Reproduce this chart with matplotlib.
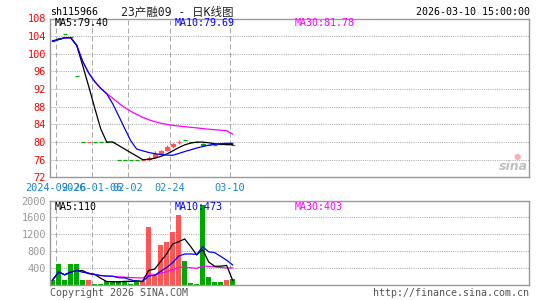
import numpy as np
import pandas as pd
import matplotlib
matplotlib.use('Agg')
import matplotlib.pyplot as plt

# daily K-line data
opens = [102.9, 103.6, 104.4, 103.7, 95.0, 80.0, 80.0, 80.0, 80.0, 80.0, 80.0,
         76.0, 76.0, 76.0, 76.0, 76.0, 76.1, 76.6, 77.4, 78.2, 79.0, 79.9,
         80.45, 80.0, 80.0, 79.5, 79.3, 79.3, 79.5, 79.5, 79.4]
closes = [102.9, 103.6, 104.4, 103.7, 95.0, 80.0, 80.0, 80.0, 80.0, 80.0, 80.0,
          76.0, 76.0, 76.0, 76.0, 76.0, 76.3, 77.3, 78.0, 78.8, 79.5, 80.0,
          80.45, 80.0, 80.0, 79.4, 79.3, 79.3, 79.5, 79.5, 79.4]
highs = [102.9, 103.6, 104.4, 103.7, 95.0, 80.0, 80.0, 80.0, 80.0, 80.0, 80.0,
         76.0, 76.0, 76.0, 76.0, 76.0, 76.8, 77.9, 78.3, 79.3, 79.7, 80.5,
         80.45, 80.0, 80.0, 79.8, 79.3, 79.3, 79.5, 79.5, 79.4]
lows = [102.9, 103.6, 104.4, 103.7, 95.0, 80.0, 80.0, 80.0, 80.0, 80.0, 80.0,
        76.0, 76.0, 76.0, 76.0, 76.0, 75.8, 76.4, 77.3, 77.9, 78.6, 79.5,
        80.45, 80.0, 80.0, 79.2, 79.3, 79.3, 79.5, 79.5, 79.4]
# 1 = red (up), 0 = green (down)
up = [0, 0, 0, 0, 0, 0, 1, 0, 0, 0, 0, 0, 0, 0, 0, 1, 1, 1, 1, 1, 1, 1,
      0, 0, 0, 0, 0, 0, 0, 1, 0]
volumes = [120, 490, 110, 490, 490, 120, 120, 30, 30, 100, 100, 100, 90, 30,
           120, 100, 1380, 240, 950, 1020, 1260, 1650, 570, 50, 20, 1900,
           180, 60, 60, 110, 140]

tick_idx = [1, 7, 13, 20, 30]
tick_labels = ['2024-09-26', '2026-01-06', '02-02', '02-24', '03-10']

price_ticks = list(range(72, 109, 4))
vol_ticks = [400, 800, 1200, 1600, 2000]

RED = '#ff5555'
GREEN = '#00a800'
W, H = 545, 300
MONO = ['DejaVu Sans Mono', 'Noto Sans CJK SC']

x = np.arange(len(closes))
cl = pd.Series(closes)
vo = pd.Series(volumes)
colors = [RED if u else GREEN for u in up]


def px(xp, yp):
    return xp / W, 1 - yp / H


fig = plt.figure(figsize=(W / 100, H / 100), dpi=100)
ax = fig.add_axes([50 / W, 1 - 177.3 / H, 479.3 / W, 158.8 / H])
ax2 = fig.add_axes([50 / W, 1 - 284.9 / H, 479.3 / W, 84.3 / H])

for a in (ax, ax2):
    a.set_xlim(-0.45, 79.45)
    for s in a.spines.values():
        s.set_color('#999999')
        s.set_linewidth(1.0)
    for t in tick_idx:
        a.axvline(t - 0.42, color='#aaaaaa', lw=0.72, ls=(0, (5, 3)), zorder=0)

# price panel
ax.set_ylim(72, 108)
for p in price_ticks[1:-1]:
    ax.axhline(p, color='#aaaaaa', lw=0.72, ls=(0, (1, 1.2)), zorder=0)
ax.set_yticks(price_ticks)
ax.set_yticklabels([str(p) for p in price_ticks], family=MONO)
ax.tick_params(axis='y', length=0, pad=3, labelsize=7.4, labelcolor='red')
ax.set_xticks([t - 0.42 for t in tick_idx])
ax.set_xticklabels(tick_labels, family=MONO)
ax.tick_params(axis='x', length=0, pad=4, labelsize=7.4, labelcolor='#1a86d0')

ax.vlines(x, lows, highs, colors=colors, lw=0.9, zorder=3)
ax.bar(x, np.array(closes) - np.array(opens), bottom=opens, width=0.72,
       color=colors, edgecolor=colors, linewidth=0.9, zorder=3)

ax.plot(x, cl.rolling(5, min_periods=1).mean(), color='black', lw=0.9, zorder=4)
ax.plot(x, cl.rolling(10, min_periods=1).mean(), color='#0000ff', lw=0.9, zorder=4)
ax.plot(x, cl.rolling(30, min_periods=1).mean(), color='#ff00ff', lw=0.9, zorder=2)

# volume panel
ax2.set_ylim(0, 2000)
for v in vol_ticks[:-1]:
    ax2.axhline(v, color='#aaaaaa', lw=0.72, ls=(0, (1, 1.2)), zorder=0)
ax2.set_yticks(vol_ticks)
ax2.set_yticklabels([str(v) for v in vol_ticks], family=MONO)
ax2.tick_params(axis='y', length=0, pad=3, labelsize=7.4, labelcolor='#999999')
ax2.set_xticks([])
ax2.bar(x, volumes, width=0.83, color=colors, zorder=2)
ax2.plot(x, vo.rolling(5, min_periods=1).mean(), color='black', lw=0.9, zorder=4)
ax2.plot(x, vo.rolling(10, min_periods=1).mean(), color='#0000ff', lw=0.9, zorder=4)
ax2.plot(x, vo.rolling(30, min_periods=1).mean(), color='#ff00ff', lw=0.9, zorder=3)

# texts
fig.text(*px(50, 11.7), 'sh115966', family=MONO, fontsize=7.2, va='center')
fig.text(*px(121, 11.7), '23产融09 - 日K线图', family=MONO, fontsize=8.3,
         va='center', color='#222222')
fig.text(*px(529.5, 11.7), '2026-03-10 15:00:00', family=MONO, fontsize=7.2,
         va='center', ha='right')
fig.text(*px(55, 23.5), 'MA5:79.40', family=MONO, fontsize=7.2, va='center')
fig.text(*px(175, 23.5), 'MA10:79.69', family=MONO, fontsize=7.2, va='center',
         color='#0000ff')
fig.text(*px(295, 23.5), 'MA30:81.78', family=MONO, fontsize=7.2, va='center',
         color='#ff00ff')
fig.text(*px(55, 207), 'MA5:110', family=MONO, fontsize=7.2, va='center')
fig.text(*px(175, 207), 'MA10:473', family=MONO, fontsize=7.2, va='center',
         color='#0000ff')
fig.text(*px(295, 207), 'MA30:403', family=MONO, fontsize=7.2, va='center',
         color='#ff00ff')
fig.text(*px(50, 292.7), 'Copyright 2026 SINA.COM', family=MONO, fontsize=7.2,
         va='center', color='#555555')
fig.text(*px(529.5, 292.7), 'http://finance.sina.com.cn', family=MONO,
         fontsize=7.2, va='center', ha='right', color='#555555')
# sina watermark
fig.text(*px(528, 166), 'sina', fontsize=9, style='italic', weight='bold',
         va='center', ha='right', color='#c0c0c0')
fig.text(*px(505 + 12, 156), '●', fontsize=6, va='center', ha='center',
         color='#f7b0b0')

fig.savefig('out.png', dpi=100)
